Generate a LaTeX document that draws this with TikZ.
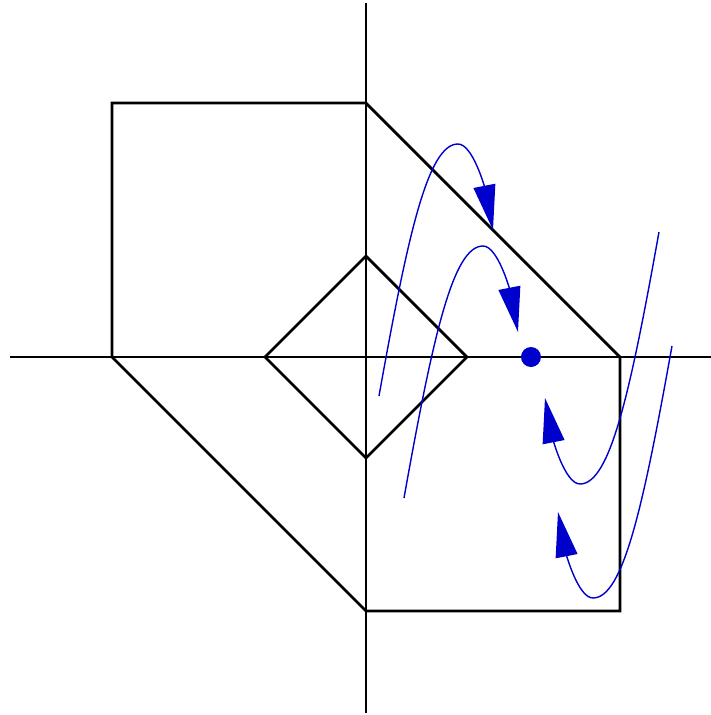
\documentclass[tikz,border=0pt]{standalone}
\usetikzlibrary{arrows.meta}
\definecolor{orbitblue}{RGB}{0,0,204}
\begin{document}
\begin{tikzpicture}[x=1cm,y=1cm,
        region/.style={thick,line join=miter},
        orbit/.style={orbitblue,line width=0.4pt,-{Triangle[length=4.5mm,width=2.2mm]}},
        fixdot/.style={circle,fill=orbitblue,inner sep=0pt,minimum size=2mm}]
        \useasboundingbox (-3.66,-3.58) rectangle (3.45,3.57);
        % axes
        \draw (-3.56,0) -- (3.45,0);
        \draw (0,-3.56) -- (0,3.54);
        % regions
        \draw[region] (-2.54,2.54) -- (0,2.54) -- (2.54,0) -- (2.54,-2.54) -- (0,-2.54) -- (-2.54,0) -- cycle;
        \draw[region] (-1.01,0) -- (0,1.01) -- (1.01,0) -- (0,-1.01) -- cycle;
        % fixed point
        \node[fixdot] (fix) at (1.65,0) {};
        % orbits, drawn about their turning points
        \foreach \px/\py/\rot in {0.92/2.13/0,1.17/1.11/0,2.14/-1.27/180,2.27/-2.41/180} {
            \draw[orbit,shift={(\px,\py)},rotate=\rot] (-0.79,-2.52) .. controls (-0.5,-0.9) and (-0.3,0) .. (0,0)
                .. controls (0.15,0) and (0.27,-0.45) .. (0.35,-0.86);
        }
    \end{tikzpicture}
\end{document}
